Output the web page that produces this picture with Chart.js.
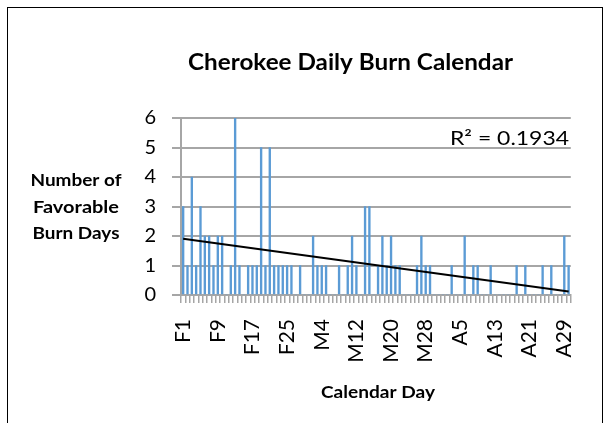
<!DOCTYPE html>
<html><head><meta charset="utf-8">
<script src="https://cdn.jsdelivr.net/npm/chart.js@4"></script>
<style>
html,body{margin:0;padding:0;background:#fff;overflow:hidden}
#wrap{position:absolute;left:0;top:0;width:610px;height:423px}
#frame{position:absolute;left:7px;top:7px;width:596px;height:440px;border:1px solid #000;box-sizing:border-box;pointer-events:none}
</style></head><body>
<div id="wrap"><canvas id="c" width="610" height="423"></canvas></div>
<div id="frame"></div>
<script>
// ---- data ----
const dayLabels = [
 'F1','F2','F3','F4','F5','F6','F7','F8','F9','F10','F11','F12','F13','F14','F15','F16','F17','F18','F19','F20','F21','F22','F23','F24','F25','F26','F27','F28','F29',
 'M1','M2','M3','M4','M5','M6','M7','M8','M9','M10','M11','M12','M13','M14','M15','M16','M17','M18','M19','M20','M21','M22','M23','M24','M25','M26','M27','M28','M29','M30','M31',
 'A1','A2','A3','A4','A5','A6','A7','A8','A9','A10','A11','A12','A13','A14','A15','A16','A17','A18','A19','A20','A21','A22','A23','A24','A25','A26','A27','A28','A29','A30'
];
const burnDays = [
 3,1,4,1,3,2,2,1,2,2, 0,1,6,1,0,1,1,1,5,1,
 5,1,1,1,1,1,0,1,0,0, 2,1,1,1,0,0,1,0,1,2,
 1,0,3,3,0,1,2,1,2,1, 1,0,0,0,1,2,1,1,0,0,
 0,0,1,0,0,2,0,1,1,0, 0,1,0,0,0,0,0,1,0,1,
 0,0,0,1,0,1,0,0,2,1
];
const yTickValues = [0,1,2,3,4,5,6];
const chartTitle = 'Cherokee Daily Burn Calendar';
const yTitleLines = ['Number of','Favorable','Burn Days'];
const xTitle = 'Calendar Day';
const r2Label = 'R\u00B2 = 0.1934';
const labelEvery = 8;

// linear trendline (least squares, x = 1..n as Excel does)
const reg = (() => {
  const n = burnDays.length; let sx=0, sy=0, sxy=0, sxx=0;
  burnDays.forEach((v,i)=>{const x=i+1; sx+=x; sy+=v; sxy+=x*v; sxx+=x*x;});
  const b = (n*sxy - sx*sy)/(n*sxx - sx*sx);
  const a = (sy - b*sx)/n;
  return {a,b};
})();
const trend = burnDays.map((v,i)=> (i===0 || i===burnDays.length-1) ? reg.a + reg.b*(i+1) : null);

function fitText(ctx, txt, x, baseline, font, targetW, align){
  ctx.save();
  ctx.font = font;
  const w = ctx.measureText(txt).width;
  const s = targetW / w;
  ctx.translate(x, baseline);
  ctx.scale(s, 1);
  ctx.textAlign = align || 'center';
  ctx.textBaseline = 'alphabetic';
  ctx.fillStyle = '#000';
  ctx.fillText(txt, 0, 0);
  ctx.restore();
}

const textPlugin = {
  id: 'texts',
  afterDraw(chart){
    const ctx = chart.ctx;
    fitText(ctx, chartTitle, 350.5, 70, 'bold 22px Lato', 325, 'center');
    const yl = [186, 213, 239];
    const yw = [91, 86, 87];
    yTitleLines.forEach((t,i)=> fitText(ctx, t, 76, yl[i], 'bold 17px Lato', yw[i], 'center'));
    fitText(ctx, xTitle, 378, 398, 'bold 17px Lato', 114, 'center');
    fitText(ctx, r2Label, 569, 145, '19px Lato', 119, 'right');
  }
};

const gridColor = '#a6a6a6';

document.fonts.load('bold 22px Lato').then(()=>document.fonts.load('19px Lato')).catch(()=>{}).then(()=>{
new Chart(document.getElementById('c'), {
  data: {
    labels: dayLabels,
    datasets: [
      { type:'line', data: trend, borderColor:'#000', borderWidth:2, pointRadius:0, spanGaps:true, order:0, tension:0 },
      { type:'bar', data: burnDays, backgroundColor:'#5b9bd5', borderWidth:0, barThickness:1.7, order:1 }
    ]
  },
  options: {
    responsive:false, animation:false, devicePixelRatio:1,
    layout:{ padding:{ left:100, right:33, top:118, bottom:0 } },
    plugins:{ legend:{display:false}, tooltip:{enabled:false}, title:{display:false} },
    scales:{
      x:{
        type:'category',
        grid:{ display:true, drawOnChartArea:false, drawTicks:true, tickLength:8, color:gridColor, lineWidth:1.5, offset:true },
        border:{ display:true, color:gridColor, width:2 },
        ticks:{
          autoSkip:false, maxRotation:90, minRotation:90, padding:16,
          color:'#000', font:{ family:'Lato', size:21 },
          callback:(v,i)=> (i % labelEvery === 0) ? dayLabels[i] : ''
        },
        afterFit:(s)=>{ s.height = 128; }
      },
      y:{
        min:0, max:6,
        grid:{ color:gridColor, lineWidth:2, drawTicks:true, tickLength:9 },
        border:{ display:true, color:gridColor, width:2 },
        ticks:{ stepSize:1, padding:16, color:'#000', font:{ family:'Lato', size:20 },
          callback:(v)=> yTickValues.includes(v) ? String(v) : '' },
        afterFit:(s)=>{ s.width = 81; }
      }
    }
  },
  plugins:[textPlugin]
});
});
</script>
</body></html>
